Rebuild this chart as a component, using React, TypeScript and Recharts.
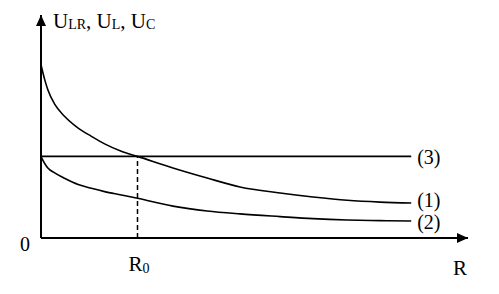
import { LineChart, Line, XAxis, YAxis, ReferenceLine, ReferenceDot } from 'recharts';

// R samples (arbitrary units along the axis) and voltages
const rValues = [0, 0.9, 1.6, 3.2, 5.5, 8.7, 11.8, 14.9, 18.8, 22.6, 30.9, 38.9, 46.6, 56.0, 63.7, 71.7, 79.4, 86.7];
const curve1 = [77.7, 70.8, 66.5, 60.0, 54.6, 49.3, 45.6, 42.2, 38.9, 36.6, 31.4, 26.9, 22.9, 20.2, 18.4, 16.9, 16.1, 15.7];
const curve2 = [36.5, 33.3, 31.4, 29.2, 26.8, 24.0, 22.3, 20.8, 19.3, 17.8, 14.3, 12.1, 10.8, 9.6, 8.7, 8.1, 7.8, 7.6];
const line3 = [36.6, 36.6, 36.6, 36.6, 36.6, 36.6, 36.6, 36.6, 36.6, 36.6, 36.6, 36.6, 36.6, 36.6, 36.6, 36.6, 36.6, 36.6];

const R0 = 22.6;
const xTicks = [0, R0, 98.1];
const seriesLabels = ['(1)', '(2)', '(3)'];

const data = rValues.map((r, i) => ({ r, u1: curve1[i], u2: curve2[i], u3: line3[i] }));
const last = rValues.length - 1;

const FONT = '"Liberation Serif", "Times New Roman", serif';

function XTick(props: any) {
  const { x, y, payload } = props;
  const v = payload.value;
  if (v === 0) {
    return (
      <text x={x - 16} y={y + 5} textAnchor="middle" fontFamily={FONT} fontSize={20} fill="#000">0</text>
    );
  }
  if (v === R0) {
    return (
      <text x={x - 9} y={y + 25} fontFamily={FONT} fontSize={21} fill="#000">
        R<tspan fontSize={14} dy={2}>0</tspan>
      </text>
    );
  }
  return (
    <text x={x} y={y + 29} textAnchor="middle" fontFamily={FONT} fontSize={21} fill="#000">R</text>
  );
}

function UpArrow(props: any) {
  const { cx, cy } = props;
  return <path d={`M${cx},${cy} L${cx - 5},${cy + 11} L${cx + 5},${cy + 11} Z`} fill="#000" />;
}

function RightArrow(props: any) {
  const { cx, cy } = props;
  return <path d={`M${cx},${cy} L${cx - 11},${cy - 5} L${cx - 11},${cy + 5} Z`} fill="#000" />;
}

function Title(props: any) {
  const { cx, cy } = props;
  return (
    <text x={cx + 12} y={cy + 13} fontFamily={FONT} fontSize={21} fill="#000">
      U<tspan fontSize={14} dy={1}>LR</tspan>
      <tspan dy={-1}>, U</tspan>
      <tspan fontSize={14} dy={1}>L</tspan>
      <tspan dy={-1}>, U</tspan>
      <tspan fontSize={14} dy={1}>C</tspan>
    </text>
  );
}

function endLabel(text: string, dy: number) {
  return (props: any) => (
    <text x={props.cx + 6} y={props.cy + dy} dominantBaseline="central" fontFamily={FONT} fontSize={20} fill="#000">
      {text}
    </text>
  );
}

export default function App() {
  return (
    <div style={{ position: 'absolute', left: 0, top: 0, background: '#fff' }}>
      <LineChart width={499} height={294} data={data} margin={{ top: 15, right: 31, bottom: 55, left: 40 }}>
        <XAxis
          dataKey="r"
          type="number"
          domain={[0, 100]}
          ticks={xTicks}
          tick={<XTick />}
          tickLine={false}
          axisLine={{ stroke: '#000', strokeWidth: 2 }}
          height={1}
          interval={0}
        />
        <YAxis
          type="number"
          domain={[0, 100]}
          tick={false}
          tickLine={false}
          axisLine={{ stroke: '#000', strokeWidth: 2 }}
          width={1}
        />
        <ReferenceLine
          segment={[{ x: R0, y: 0 }, { x: R0, y: line3[9] }]}
          stroke="#000"
          strokeWidth={1.5}
          strokeDasharray="5 3"
        />
        <Line type="monotone" dataKey="u1" stroke="#000" strokeWidth={1.6} dot={false} isAnimationActive={false} />
        <Line type="monotone" dataKey="u2" stroke="#000" strokeWidth={1.6} dot={false} isAnimationActive={false} />
        <Line type="linear" dataKey="u3" stroke="#000" strokeWidth={1.6} dot={false} isAnimationActive={false} />
        <ReferenceDot x={rValues[last]} y={curve1[last]} r={0} shape={endLabel(seriesLabels[0], -3)} />
        <ReferenceDot x={rValues[last]} y={curve2[last]} r={0} shape={endLabel(seriesLabels[1], 1)} />
        <ReferenceDot x={rValues[last]} y={line3[last]} r={0} shape={endLabel(seriesLabels[2], 1)} />
        <ReferenceDot x={0} y={100} r={0} shape={<UpArrow />} />
        <ReferenceDot x={0} y={100} r={0} shape={<Title />} />
        <ReferenceDot x={100} y={0} r={0} shape={<RightArrow />} />
      </LineChart>
    </div>
  );
}
